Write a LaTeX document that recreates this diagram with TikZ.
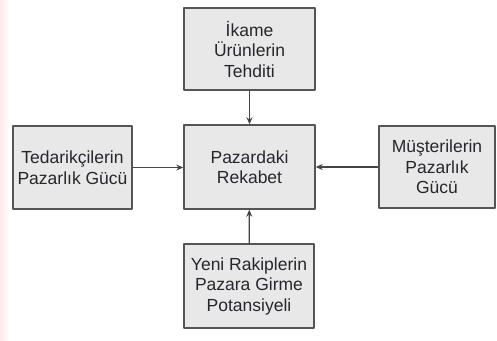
\documentclass[tikz,border=0pt]{standalone}
\usepackage{fontspec}
\setmainfont{Liberation Sans}
\usetikzlibrary{arrows.meta}
\definecolor{boxfill}{HTML}{E8E8E8}
\definecolor{boxline}{HTML}{555555}
\definecolor{txt}{HTML}{26262E}
\tikzset{
  kutu/.style={draw=boxline, fill=boxfill, line width=1.4pt, align=center,
    inner sep=2pt, text=txt, font=\fontsize{17.5}{20.5}\selectfont},
  ok/.style={-{Stealth[length=7pt, width=6pt]}, draw=boxline!80!black, line width=1.3pt}
}
\begin{document}
\begin{tikzpicture}[x=1pt, y=-1pt, line join=round]
\useasboundingbox (0,0) rectangle (497,340);
\shade[left color=red!9, right color=white] (0,0) rectangle (9,340);

\node[kutu, minimum width=131pt, minimum height=82pt] (ikame) at (249.5,49) {İkame\\Ürünlerin\\Tehditi};
\node[kutu, minimum width=131pt, minimum height=84pt] (rekabet) at (249.5,167) {Pazardaki\\Rekabet};
\node[kutu, minimum width=119pt, minimum height=83pt] (tedarik) at (72.5,167.5) {Tedarikçilerin\\Pazarlık Gücü};
\node[kutu, minimum width=116pt, minimum height=82pt] (musteri) at (437,167) {Müşterilerin\\Pazarlık\\Gücü};
\node[kutu, minimum width=130pt, minimum height=84pt] (rakip) at (249,286) {Yeni Rakiplerin\\Pazara Girme\\Potansiyeli};

\draw[ok] (ikame) -- (rekabet);
\draw[ok] (tedarik.east) -- (rekabet.west |- tedarik.east);
\draw[ok] (musteri.west) -- (rekabet.east |- musteri.west);
\draw[ok] (rakip) -- (rekabet);
\end{tikzpicture}
\end{document}
